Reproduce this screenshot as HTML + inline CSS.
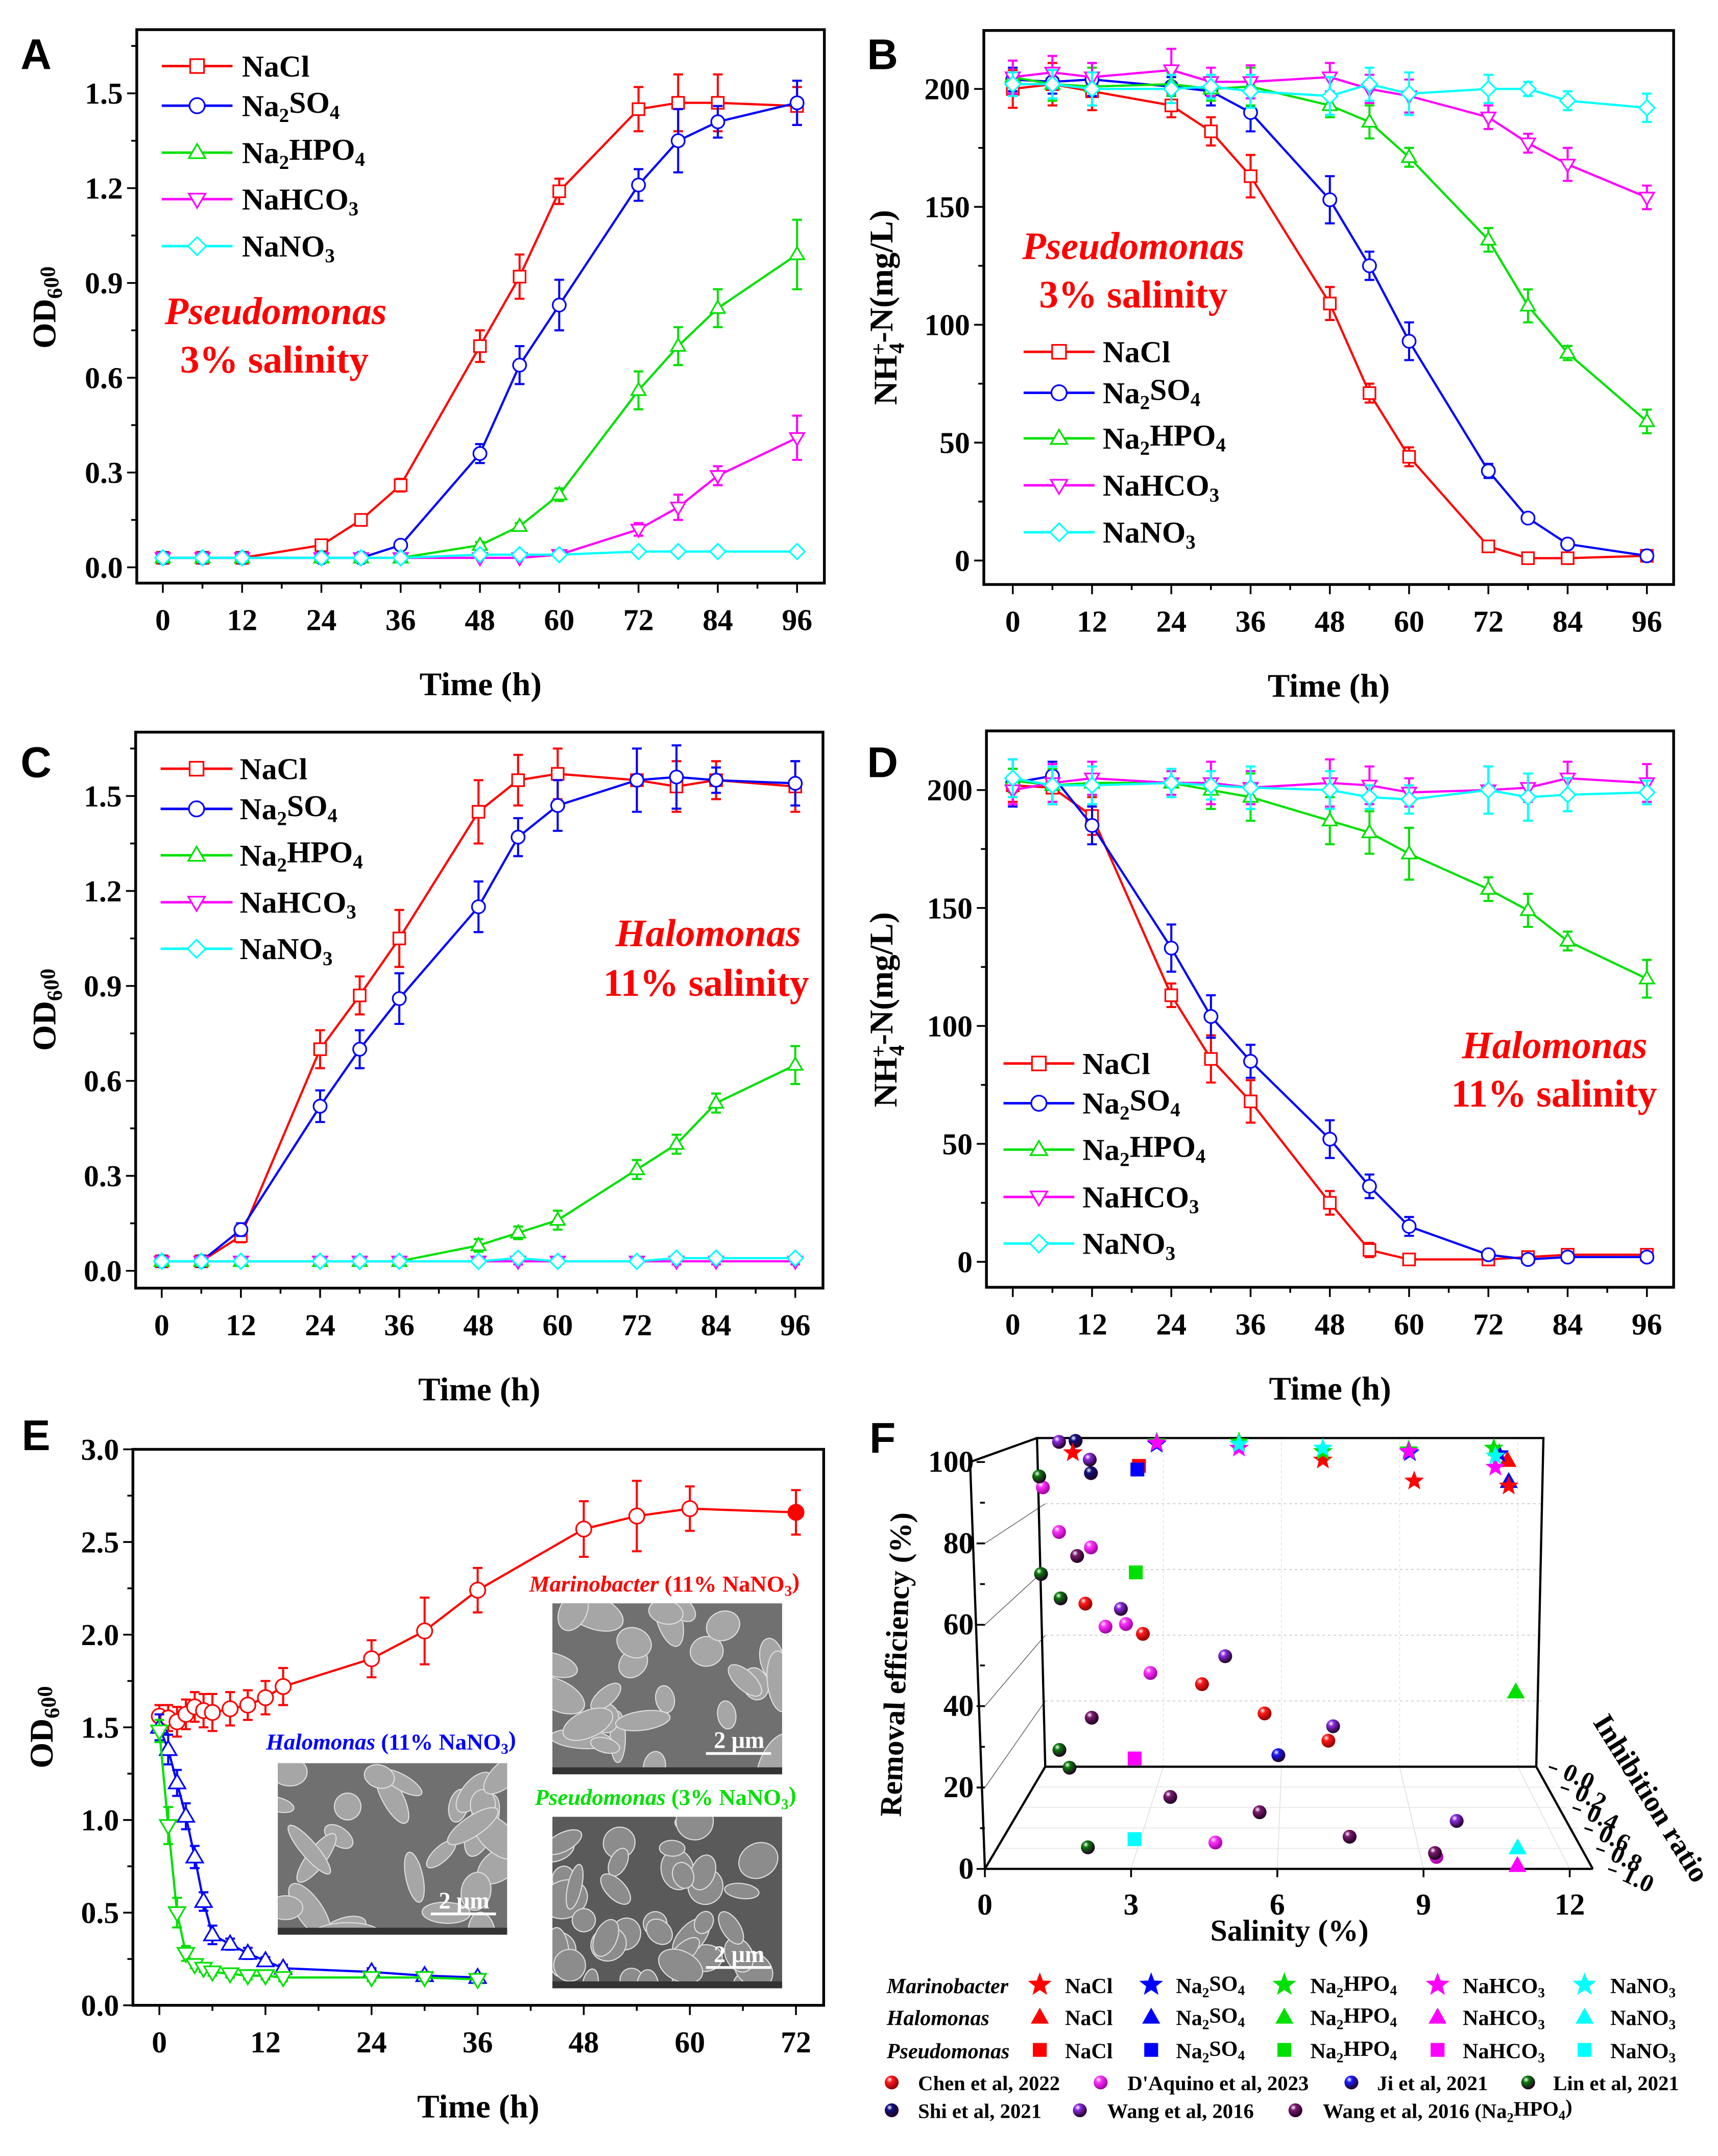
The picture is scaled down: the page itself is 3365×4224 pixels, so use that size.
<!DOCTYPE html>
<html><head><meta charset="utf-8"><title>Growth and ammonium removal under salinity</title>
<style>
html,body{margin:0;padding:0;background:#fff;}
svg{display:block;}
text{font-family:"Liberation Serif",serif;font-weight:bold;fill:#000;}
.sans{font-family:"Liberation Sans",sans-serif;}
</style></head>
<body>
<svg id="fig" xmlns="http://www.w3.org/2000/svg" width="3365" height="4224" viewBox="0 0 1240 1556.6">
<defs id="defs"></defs>
</svg>
<script>
// ---------- DATA ----------
const timeX = [0,6,12,24,30,36,48,54,60,72,78,84,96];
// Panel A (OD600, Pseudomonas 3%)
const aNaCl  = [0.03,0.03,0.03,0.07,0.15,0.26,0.70,0.92,1.19,1.45,1.47,1.47,1.46];
const aNaClE = [0,0,0,0.01,0.01,0.02,0.05,0.07,0.04,0.07,0.09,0.09,0.06];
const aSO4   = [0.03,0.03,0.03,0.03,0.03,0.07,0.36,0.64,0.83,1.21,1.35,1.41,1.47];
const aSO4E  = [0,0,0,0,0,0.01,0.03,0.06,0.08,0.05,0.10,0.05,0.07];
const aHPO4  = [0.03,0.03,0.03,0.03,0.03,0.03,0.07,0.13,0.23,0.56,0.70,0.82,0.99];
const aHPO4E = [0,0,0,0,0,0,0.01,0.01,0.02,0.06,0.06,0.06,0.11];
const aHCO3  = [0.03,0.03,0.03,0.03,0.03,0.03,0.03,0.03,0.04,0.12,0.19,0.29,0.41];
const aHCO3E = [0,0,0,0,0,0,0,0,0,0.02,0.04,0.03,0.07];
const aNO3   = [0.03,0.03,0.03,0.03,0.03,0.03,0.04,0.04,0.04,0.05,0.05,0.05,0.05];
const aNO3E  = [0.01,0.01,0.01,0.01,0.01,0.01,0.01,0.01,0.01,0.01,0.01,0.01,0.01];
// Panel B (NH4-N, Pseudomonas 3%)
const bNaCl  = [200,202,199,193,182,163,109,71,44,6,1,1,2];
const bNaClE = [8,9,8,5,6,9,7,4,4,2,1,1,1];
const bSO4   = [204,203,204,201,199,190,153,125,93,38,18,7,2];
const bSO4E  = [5,5,7,4,6,8,10,6,8,3,2,2,1];
const bHPO4  = [205,202,201,202,200,201,193,186,171,136,108,88,59];
const bHPO4E = [7,7,8,5,5,8,5,7,4,5,7,3,5];
const bHCO3  = [205,207,205,208,203,203,205,200,197,188,177,168,154];
const bHCO3E = [7,7,6,9,6,7,6,6,7,5,4,7,5];
const bNO3   = [202,202,200,200,201,199,197,202,198,200,200,195,192];
const bNO3E  = [5,6,7,6,5,7,8,7,9,6,3,4,6];
// Panel C (OD600, Halomonas 11%)
const cNaCl  = [0.03,0.03,0.11,0.70,0.87,1.05,1.45,1.55,1.57,1.55,1.53,1.55,1.53];
const cNaClE = [0,0,0.02,0.06,0.06,0.09,0.10,0.08,0.08,0.10,0.08,0.06,0.08];
const cSO4   = [0.03,0.03,0.13,0.52,0.70,0.86,1.15,1.37,1.47,1.55,1.56,1.55,1.54];
const cSO4E  = [0,0,0.02,0.05,0.06,0.08,0.08,0.06,0.08,0.10,0.10,0.04,0.07];
const cHPO4  = [0.03,0.03,0.03,0.03,0.03,0.03,0.08,0.12,0.16,0.32,0.40,0.53,0.65];
const cHPO4E = [0,0,0,0,0,0,0.02,0.02,0.03,0.03,0.03,0.03,0.06];
const cHCO3  = [0.03,0.03,0.03,0.03,0.03,0.03,0.03,0.03,0.03,0.03,0.03,0.03,0.03];
const cHCO3E = [0.01,0.01,0.01,0.01,0.01,0.01,0.01,0.01,0.01,0.01,0.01,0.01,0.01];
const cNO3   = [0.03,0.03,0.03,0.03,0.03,0.03,0.03,0.04,0.03,0.03,0.04,0.04,0.04];
const cNO3E  = [0.01,0.01,0.01,0.01,0.01,0.01,0.01,0.01,0.01,0.01,0.01,0.01,0.01];
// Panel D (NH4-N, Halomonas 11%)
const dNaCl  = [202,201,189,113,86,68,25,5,1,1,2,3,3];
const dNaClE = [7,7,8,5,10,9,5,3,2,2,2,2,2];
const dSO4   = [203,206,185,133,104,85,52,32,15,3,1,2,2];
const dSO4E  = [10,6,8,10,9,7,8,5,4,2,2,2,2];
const dHPO4  = [204,202,203,203,200,197,187,182,173,158,149,136,120];
const dHPO4E = [5,7,9,5,8,10,10,9,11,5,7,4,8];
const dHCO3  = [200,203,205,203,203,201,203,202,199,200,201,205,203];
const dHCO3E = [6,8,7,5,9,7,10,8,6,10,6,7,8];
const dNO3   = [205,202,202,203,202,201,200,197,196,200,197,198,199];
const dNO3E  = [8,8,8,6,6,9,8,5,6,10,10,7,5];
// Panel E (OD600 in 11%/3% NaNO3)
const eMarX  = [0,1,2,3,4,5,6,8,10,12,14,24,30,36,48,54,60,72];
const eMarY  = [1.56,1.55,1.53,1.57,1.61,1.59,1.58,1.60,1.62,1.66,1.72,1.87,2.02,2.24,2.57,2.64,2.68,2.66];
const eMarE  = [0.06,0.07,0.08,0.08,0.08,0.09,0.10,0.09,0.08,0.09,0.10,0.10,0.18,0.12,0.15,0.19,0.12,0.12];
const eHalX  = [0,1,2,3,4,5,6,8,10,12,14,24,30,36];
const eHalY  = [1.50,1.38,1.20,1.02,0.80,0.56,0.38,0.33,0.28,0.24,0.20,0.18,0.16,0.15];
const eHalE  = [0.07,0.08,0.07,0.07,0.06,0.05,0.05,0.03,0.03,0.02,0.02,0.02,0.02,0.02];
const ePseX  = [0,1,2,3,4,5,6,8,10,12,14,24,30,36];
const ePseY  = [1.48,0.97,0.50,0.28,0.22,0.20,0.18,0.17,0.16,0.16,0.15,0.15,0.15,0.14];
const ePseE  = [0.06,0.10,0.08,0.04,0.02,0.02,0.02,0.02,0.02,0.02,0.02,0.02,0.02,0.02];
// Panel F (salinity %, removal %, inhibition ratio)
const fChenSal=[1.02,2.48,3.98,5.57,7.19], fChenRem=[49.6,40.4,25.1,16.2,7.9], fChenInh=[0,0,0,0,0];
const fDaqSal=[0,0.35,1.16,1.53,2.05,2.67,4.64,9.33], fDaqRem=[85.4,71.4,66.7,42.6,43.4,28.5,0,0], fDaqInh=[0.04,0,0,0,0,0,0.742,0.883];
const fJiSal=[5.92], fJiRem=[3.5], fJiInh=[0];
const fLinSal=[0,0,0.39,0.36,0.63,1.93], fLinRem=[89.3,59.8,51.2,5.1,0,0], fLinInh=[0.1,0.07,0,0,0.01,0.789];
const fShiSal=[0.77,1.16], fShiRem=[99.1,89.3], fShiInh=[0,0];
const fWangSal=[0.35,1.13,1.92,4.57,7.31,10.0], fWangRem=[98.8,93.4,48,33.6,12.3,0], fWangInh=[0,0,0,0,0,0.531];
const fWangPSal=[0.81,1.18,3.39,5.54,7.55,9.32], fWangPRem=[64.1,14.9,0,0,0,0], fWangPInh=[0,0,0.296,0.446,0.685,0.845];
const fPseSal=[2.38,2.34,2.30,2.27,2.87], fPseRem=[91.5,90.4,59.1,2.5,0], fPseInh=[0,0,0,0,0.709];
const fHalSal=[11.74,11.77,11.95,10.96,11.12], fHalRem=[93.3,86.9,22.9,0,0], fHalInh=[0,0,0,0.962,0.789];
const fMarNaClSal=[0.70,7.05,9.37,11.77], fMarNaClRem=[95.5,93.3,86.9,85.4];
const fMarSO4Sal=[2.83,9.26,11.53], fMarSO4Rem=[98.1,95.5,95.2];
const fMarHPO4Sal=[2.83,4.92,7.05,9.23,11.39], fMarHPO4Rem=[98.8,98.8,95.9,96.4,96.9];
const fMarHCO3Sal=[2.83,4.92,9.23,11.43], fMarHCO3Rem=[98.5,96.9,95.9,91.1];
const fMarNO3Sal=[4.92,7.05,11.43], fMarNO3Rem=[98.1,96.9,94.5];
const fSaltTicks=[0,3,6,9,12];
const fRemTicks=[0,20,40,60,80,100];
const fInhTicks=[0,0.2,0.4,0.6,0.8,1.0];

// ---------- HELPERS ----------
const NS='http://www.w3.org/2000/svg';
const svg=document.getElementById('fig');
const defs=document.getElementById('defs');
function mk(tag,attrs,parent){const e=document.createElementNS(NS,tag);for(const k in attrs)e.setAttribute(k,attrs[k]);(parent||svg).appendChild(e);return e;}
function fmt(s,sub){
  if(s.indexOf('<tspan')>=0)return s;
  sub=sub||0.65;let out='';
  for(let i=0;i<s.length;i++){const ch=s[i];
    if(ch==='_'||ch==='^'){const c=s[i+1];i++;const dy=ch==='_'?'0.3em':'-0.45em';
      out+='<tspan font-size="'+(sub*100)+'%" dy="'+dy+'">'+c+'</tspan><tspan dy="'+(ch==='_'?'-0.3em':'0.45em')+'">\u200b</tspan>';}
    else out+=ch.replace('&','&amp;').replace('<','&lt;');}
  return out;}
function txt(x,y,s,size,opts,parent){opts=opts||{};const a={x:x,y:y,'font-size':size};
  if(opts.anchor)a['text-anchor']=opts.anchor;if(opts.fill)a.fill=opts.fill;if(opts.style)a['font-style']=opts.style;
  if(opts.tr)a.transform=opts.tr;if(opts.cls)a['class']=opts.cls;if(opts.db)a['dominant-baseline']=opts.db;
  const t=mk('text',a,parent);t.innerHTML=fmt(s);if(opts.fill)t.style.fill=opts.fill;return t;}
function marker(g,type,cx,cy,color,r,filled){let e;const f=filled?color:'#fff';
  if(type==='square')e=mk('rect',{x:cx-r,y:cy-r,width:2*r,height:2*r,fill:f,stroke:color,'stroke-width':1.2},g);
  else if(type==='circle')e=mk('circle',{cx:cx,cy:cy,r:r*1.1,fill:f,stroke:color,'stroke-width':1.2},g);
  else if(type==='up')e=mk('polygon',{points:[cx,cy-r*1.25,cx+r*1.2,cy+r*0.8,cx-r*1.2,cy+r*0.8].join(','),fill:f,stroke:color,'stroke-width':1.2},g);
  else if(type==='down')e=mk('polygon',{points:[cx,cy+r*1.25,cx+r*1.2,cy-r*0.8,cx-r*1.2,cy-r*0.8].join(','),fill:f,stroke:color,'stroke-width':1.2},g);
  else e=mk('polygon',{points:[cx,cy-r*1.3,cx+r*1.3,cy,cx,cy+r*1.3,cx-r*1.3,cy].join(','),fill:f,stroke:color,'stroke-width':1.2},g);
  return e;}
const COL={red:'#ff0000',blue:'#0000ff',green:'#00e000',mag:'#ff00ff',cyan:'#00ffff'};
const NH4='NH<tspan font-size="65%" dy="-0.5em">+</tspan><tspan font-size="65%" dx="-0.5em" dy="0.85em">4</tspan><tspan dy="-0.35em">-N(mg/L)</tspan>';

// ---------- LINE PANELS ----------
function linePanel(p){
  const g=mk('g',{});
  
  
  const [bl,bt,br,bb]=p.box;
  const xs=v=>p.x0+v/p.xmax*(p.x1-p.x0);
  const ys=v=>p.y0-v/p.yv*(p.y0-p.yp);
  const ax=mk('g',{stroke:'#000','stroke-width':1.3},g);
  
  
  for(let v=0;v<=p.xmax+1e-9;v+=p.xminor){const X=xs(v);const major=Math.abs(v/p.xstep-Math.round(v/p.xstep))<1e-6;
    mk('line',{x1:X,y1:bb,x2:X,y2:bb+(major?7:4)},ax);
    if(major){const t=txt(X,bb+34,String(Math.round(v)),22,{anchor:'middle'},g);
      
      }}
  for(let v=0;v<=p.ymaxTick+1e-9;v+=p.yminor){const Y=ys(v);const major=Math.abs(v/p.ystep-Math.round(v/p.ystep))<1e-6;
    mk('line',{x1:bl,y1:Y,x2:bl-(major?7:4),y2:Y},ax);
    if(major){const t=txt(bl-10,Y+7.5,v.toFixed(p.ydec),22,{anchor:'end'},g);
      
      }}
  if(p.ytopMinor){const Y=ys(p.ytopMinor);mk('line',{x1:bl,y1:Y,x2:bl-4,y2:Y},ax);}
  const frame=mk('rect',{x:bl,y:bt,width:br-bl,height:bb-bt,fill:'none',stroke:'#000','stroke-width':2},g);
  
  
  p.series.forEach(s=>{
    const sg=mk('g',{},g);
    
    
    const xv=s.x||timeX;
    const pts=xv.map((x,i)=>xs(x)+','+ys(s.y[i])).join(' ');
    const ln=mk('polyline',{points:pts,fill:'none',stroke:s.color,'stroke-width':1.6},sg);
    
    
    xv.forEach((x,i)=>{const X=xs(x),e=s.e[i];
      if(e>0){const eb=mk('path',{d:'M'+X+','+ys(s.y[i]-e)+'V'+ys(s.y[i]+e)+'M'+(X-3.5)+','+ys(s.y[i]+e)+'h7M'+(X-3.5)+','+ys(s.y[i]-e)+'h7',stroke:s.color,'stroke-width':1.5,fill:'none'},sg);
        
        }
    });
    xv.forEach((x,i)=>{const m=marker(sg,s.marker,xs(x),ys(s.y[i]),s.color,s.r||4.3,s.filledLast&&i===xv.length-1);
      
      });
  });
  const xt=txt((bl+br)/2,bb+81,'Time (h)',24,{anchor:'middle'},g);
  
  
  const yt=txt(0,0,p.ytitle,24,{anchor:'middle',tr:'translate('+p.ytx+','+p.yty+') rotate(-90)'},g);
  
  
  const pl=txt(p.lx,p.ly,p.letter,31,{cls:'sans',anchor:'middle'},g);
  
  
  if(p.legend){const lg=mk('g',{},g);
    
    
    p.series.forEach((s,i)=>{const Y=p.legend.ys[i];const L=p.legend;
      const en=mk('g',{},lg);
      
      
      mk('line',{x1:L.x1,y1:Y,x2:L.x2,y2:Y,stroke:s.color,'stroke-width':1.8},en);
      marker(en,s.marker,(L.x1+L.x2)/2,Y,s.color,5,false);
      txt(L.tx,Y+7.5,s.label,22,{},en);});}
  (p.notes||[]).forEach(n=>{const t=txt(n.x,n.y,n.s,28,{anchor:n.a,fill:COL.red,style:n.it?'italic':'normal'},g);
    
    });
  return {g,xs,ys};
}
function five(pfx){return [
 {name:'nacl',label:'NaCl',color:COL.red,marker:'square',y:window[pfx+'NaCl'],e:window[pfx+'NaClE']},
 {name:'na2so4',label:'Na_2SO_4',color:COL.blue,marker:'circle',y:window[pfx+'SO4'],e:window[pfx+'SO4E']},
 {name:'na2hpo4',label:'Na_2HPO_4',color:COL.green,marker:'up',y:window[pfx+'HPO4'],e:window[pfx+'HPO4E']},
 {name:'nahco3',label:'NaHCO_3',color:COL.mag,marker:'down',y:window[pfx+'HCO3'],e:window[pfx+'HCO3E']},
 {name:'nano3',label:'NaNO_3',color:COL.cyan,marker:'diamond',y:window[pfx+'NO3'],e:window[pfx+'NO3E']}];}
Object.assign(window,{aNaCl,aNaClE,aSO4,aSO4E,aHPO4,aHPO4E,aHCO3,aHCO3E,aNO3,aNO3E,bNaCl,bNaClE,bSO4,bSO4E,bHPO4,bHPO4E,bHCO3,bHCO3E,bNO3,bNO3E,cNaCl,cNaClE,cSO4,cSO4E,cHPO4,cHPO4E,cHCO3,cHCO3E,cNO3,cNO3E,dNaCl,dNaClE,dSO4,dSO4E,dHPO4,dHPO4E,dHCO3,dHCO3E,dNO3,dNO3E});

const od='OD_6_0_0';
linePanel({id:'a',letter:'A',lx:26,ly:50,box:[98.7,21.4,595,421],x0:117.5,x1:575.3,xmax:96,xstep:12,xminor:6,
  y0:409.6,yv:1.5,yp:67.4,ystep:0.3,yminor:0.15,ymaxTick:1.5,ytopMinor:1.65,ydec:1,ytitle:od,ytx:40,yty:222,
  series:five('a'),legend:{x1:116.7,x2:167.8,tx:174.6,ys:[47.7,76.3,110.2,143.8,177.7]},
  notes:[{x:199,y:234,s:'Pseudomonas',a:'middle',it:1},{x:198,y:269,s:'3% salinity',a:'middle'}]});
linePanel({id:'b',letter:'B',lx:637,ly:50,box:[710.1,22,1208,422],x0:731,x1:1188.7,xmax:96,xstep:12,xminor:6,
  y0:404.7,yv:200,yp:64.2,ystep:50,yminor:25,ymaxTick:200,ytopMinor:0,ydec:0,ytitle:NH4,ytx:647,yty:222,
  series:five('b'),legend:{x1:738.8,x2:790,tx:795.9,ys:[254,283.6,316.5,350.4,384.3]},
  notes:[{x:818,y:187,s:'Pseudomonas',a:'middle',it:1},{x:818,y:222,s:'3% salinity',a:'middle'}]});
linePanel({id:'c',letter:'C',lx:26,ly:561,box:[97.9,528.6,594,930],x0:116.7,x1:574,xmax:96,xstep:12,xminor:6,
  y0:917.5,yv:1.5,yp:574.7,ystep:0.3,yminor:0.15,ymaxTick:1.5,ytopMinor:1.65,ydec:1,ytitle:od,ytx:40,yty:729,
  series:five('c'),legend:{x1:115.9,x2:167.8,tx:173,ys:[555,584,617.5,651.4,685]},
  notes:[{x:578,y:683,s:'Halomonas',a:'end',it:1},{x:584,y:719,s:'11% salinity',a:'end'}]});
linePanel({id:'d',letter:'D',lx:637,ly:561,box:[712,527.7,1208,929.4],x0:731,x1:1188.7,xmax:96,xstep:12,xminor:6,
  y0:911,yv:200,yp:570.4,ystep:50,yminor:25,ymaxTick:200,ytopMinor:0,ydec:0,ytitle:NH4,ytx:647,yty:729,
  series:five('d'),legend:{x1:724.3,x2:775.4,tx:781.3,ys:[767.8,796.5,830,864.2,897.8]},
  notes:[{x:1189,y:764,s:'Halomonas',a:'end',it:1},{x:1196,y:799,s:'11% salinity',a:'end'}]});

// ---------- PANEL E ----------
(function(){
  function sem(x,y,w,h,name,seed,dark){
    const g=mk('g',{});
    
    
    const cid='clip'+name;const cp=mk('clipPath',{id:cid},defs);mk('rect',{x:x,y:y,width:w,height:h},cp);
    mk('rect',{x:x,y:y,width:w,height:h,fill:dark?'#5a5a5a':'#707070'},g);
    const ig=mk('g',{'clip-path':'url(#'+cid+')'},g);
    let s=seed;const rnd=()=>{s=(s*9301+49297)%233280;return s/233280;};
    for(let i=0;i<(dark?40:26);i++){const cx=x+rnd()*w,cy=y+rnd()*h;
      const rx=dark?6+rnd()*12:8+rnd()*16,ry=dark?5+rnd()*9:5+rnd()*7;
      mk('ellipse',{cx:cx,cy:cy,rx:rx,ry:ry,transform:'rotate('+(rnd()*180)+' '+cx+' '+cy+')',fill:dark?'#8c8c8c':'#a6a6a6',stroke:'#dcdcdc','stroke-width':0.8},ig);}
    mk('rect',{x:x,y:y+h-5,width:w,height:5,fill:'#333'},g);
    mk('line',{x1:x+w-55,y1:y+h-15,x2:x+w-8,y2:y+h-15,stroke:'#fff','stroke-width':2},g);
    const t=mk('text',{x:x+w-31,y:y+h-19,'font-size':17,'text-anchor':'middle',fill:'#fff'},g);t.textContent='2 \u03bcm';t.style.fill='#fff';
  }
  sem(398.7,1157.6,165.8,123.4,'sem-marinobacter',7,false);
  sem(200.5,1273,165.5,123.8,'sem-halomonas',19,false);
  sem(398.7,1311.7,165.8,123.8,'sem-pseudomonas',31,true);
  linePanel({id:'e',letter:'E',lx:26,ly:1047,box:[95.9,1046.4,594.5,1447.8],x0:115,x1:574.5,xmax:72,xstep:12,xminor:6,
    y0:1447.8,yv:3,yp:1046.4,ystep:0.5,yminor:0.25,ymaxTick:3,ytopMinor:0,ydec:1,ytitle:od,ytx:38,yty:1247,
    series:[
      {name:'marinobacter',color:COL.red,marker:'circle',x:eMarX,y:eMarY,e:eMarE,r:5,filledLast:true},
      {name:'halomonas',color:COL.blue,marker:'up',x:eHalX,y:eHalY,e:eHalE,r:5},
      {name:'pseudomonas',color:COL.green,marker:'down',x:ePseX,y:ePseY,e:ePseE,r:5}]});
  function lab(x,y,it,rest,color,name){const t=mk('text',{x:x,y:y,'font-size':16.5});t.style.fill=color;
    t.innerHTML='<tspan font-style="italic">'+it+'</tspan> '+fmt(rest);
    
    }
  lab(382,1149,'Marinobacter','(11% NaNO_3)',COL.red,'label-marinobacter');
  lab(192,1263,'Halomonas','(11% NaNO_3)',COL.blue,'label-halomonas');
  lab(386,1303,'Pseudomonas','(3% NaNO_3)',COL.green,'label-pseudomonas');
})();

// ---------- PANEL F (3D scatter) ----------
(function(){
  const g=mk('g',{});
  
  
  const T=(zx,zy)=>[619+zx*0.396,1013.3+zy*0.3464];
  function proj(sal,rem,d){const s=0.808+0.192*d;const ox=342-110*d,oy=757+213*d;return T(ox+sal*88.83*s,oy-rem*8.48*s);}
  const L=(a,b,st,w,dash)=>{const e=mk('line',{x1:a[0],y1:a[1],x2:b[0],y2:b[1],stroke:st,'stroke-width':w},g);if(dash)e.setAttribute('stroke-dasharray',dash);return e;};
  fRemTicks.forEach(r=>{if(r>0&&r<100){L(proj(0,r,0),proj(12.65,r,0),'#cfcfcf',0.7,'2,2');L(proj(0,r,1),proj(0,r,0),'#555',0.5);}});
  fSaltTicks.forEach(s=>{if(s>0&&s<12.5){L(proj(s,0,0),proj(s,100,0),'#e0e0e0',0.6,'2,2');L(proj(s,0,0),proj(s,0,1),'#e0e0e0',0.6);}});
  fInhTicks.forEach(v=>{if(v>0&&v<1)L(proj(0,0,v),proj(12.65,0,v),'#e6e6e6',0.6);});
  const fr=mk('g',{stroke:'#000','stroke-width':1.6,fill:'none'},g);
  
  
  const pts=[[327,72],[1250,72],[1237,757],[342,757]].map(p=>T(p[0],p[1]).join(',')).join(' ');
  mk('polygon',{points:pts},fr);
  [[[205,122],[327,72]],[[205,122],[232,970]],[[232,970],[1340,970]],[[342,757],[232,970]],[[1237,757],[1340,970]]].forEach(s=>{const a=T(...s[0]),b=T(...s[1]);mk('line',{x1:a[0],y1:a[1],x2:b[0],y2:b[1]},fr);});
  for(let r=0;r<=100;r+=10){const a=proj(0,r,1);const major=r%20===0;
    L(a,[a[0]-(major?6:3.5),a[1]],'#000',1.3);
    if(major){const t=txt(a[0]-8,a[1]+7,String(r),22,{anchor:'end'},g);
      
      }}
  fSaltTicks.forEach(s=>{const a=proj(s,0,1);L(a,[a[0],a[1]+6],'#000',1.3);
    const t=txt(a[0],a[1]+33,String(s),22,{anchor:'middle'},g);
    
    });
  fInhTicks.forEach(v=>{const a=proj(12.79,0,v);L(a,[a[0]+6,a[1]+2],'#000',1.3);
    const t=txt(a[0]+9,a[1]+8,v.toFixed(1),18,{tr:'rotate(25 '+(a[0]+9)+' '+(a[1]+8)+')'},g);
    
    });
  let t=txt(930.7,1401,'Salinity (%)',22,{anchor:'middle'},g);
  
  
  t=txt(0,0,'Removal efficiency (%)',22,{anchor:'middle',tr:'translate(654,1202) rotate(-88)'},g);
  
  
  t=txt(0,0,'Inhibition ratio',21,{anchor:'middle',tr:'translate(1186,1302) rotate(58)'},g);
  
  
  t=txt(637,1049,'F',31,{cls:'sans',anchor:'middle'},g);
  
  
  const sph={chen:'#ff1a1a',daq:'#ff33ff',ji:'#1a1aff',lin:'#0a7a0a',shi:'#101080',wang:'#8a2be2',wangp:'#7a1a70'};
  for(const k in sph){const gr=mk('radialGradient',{id:'g-'+k,cx:'35%',cy:'30%',r:'70%'},defs);
    mk('stop',{offset:'0%','stop-color':'#ffffff'},gr);mk('stop',{offset:'30%','stop-color':sph[k]},gr);mk('stop',{offset:'100%','stop-color':k==='daq'?'#a000a0':(k==='chen'?'#900000':'#200020')},gr);}
  function sphere(x,y,k,name,parent){const c=mk('circle',{cx:x,cy:y,r:5,fill:'url(#g-'+k+')'},parent||g);
    
    }
  function star(x,y,color,name,parent,R){R=R||7.5;const p=[];for(let i=0;i<10;i++){const r=i%2?R*0.42:R;const a=-Math.PI/2+i*Math.PI/5;p.push((x+r*Math.cos(a)).toFixed(2)+','+(y+r*Math.sin(a)).toFixed(2));}
    const e=mk('polygon',{points:p.join(' '),fill:color},parent||g);
    
    }
  function tri(x,y,color,name,parent){const e=mk('polygon',{points:[x,y-6.5,x+6.5,y+5,x-6.5,y+5].join(','),fill:color},parent||g);
    
    }
  function sq(x,y,color,name,parent){const e=mk('rect',{x:x-5,y:y-5,width:10,height:10,fill:color},parent||g);
    
    }
  const lit=[[fChenSal,fChenRem,fChenInh,'chen'],[fDaqSal,fDaqRem,fDaqInh,'daq'],[fJiSal,fJiRem,fJiInh,'ji'],[fLinSal,fLinRem,fLinInh,'lin'],[fShiSal,fShiRem,fShiInh,'shi'],[fWangSal,fWangRem,fWangInh,'wang'],[fWangPSal,fWangPRem,fWangPInh,'wangp']];
  lit.forEach(([S,R,I,k])=>S.forEach((s,i)=>{const p=proj(s,R[i],I[i]);sphere(p[0],p[1],k,'point-'+k);}));
  const cols=[COL.red,COL.blue,COL.green,COL.mag,COL.cyan];
  fPseSal.forEach((s,i)=>{const p=proj(s,fPseRem[i],fPseInh[i]);sq(p[0],p[1],cols[i],'point-pseudomonas');});
  fHalSal.forEach((s,i)=>{const p=proj(s,fHalRem[i],fHalInh[i]);tri(p[0],p[1],cols[i],'point-halomonas');});
  [[fMarNaClSal,fMarNaClRem,COL.red],[fMarSO4Sal,fMarSO4Rem,COL.blue],[fMarHPO4Sal,fMarHPO4Rem,COL.green],[fMarHCO3Sal,fMarHCO3Rem,COL.mag],[fMarNO3Sal,fMarNO3Rem,COL.cyan]]
   .forEach(([S,R,c])=>S.forEach((s,i)=>{const p=proj(s,R[i],0);star(p[0],p[1],c,'point-marinobacter');}));
  const lg=mk('g',{},g);
  
  
  const rows=[1433,1456,1480];const orgs=['Marinobacter','Halomonas','Pseudomonas'];
  const salts=['NaCl','Na_2SO_4','Na_2HPO_4','NaHCO_3','NaNO_3'];
  const mx=[750.5,830.9,927,1037.6,1143.7],tx=[768.7,848.8,945.7,1055.8,1162.3];
  rows.forEach((Y,r)=>{const o=txt(640,Y+6,orgs[r],15.5,{style:'italic'},lg);
    
    
    salts.forEach((sn,j)=>{if(r===0)star(mx[j],Y,cols[j],'legend-marker',lg,9);else if(r===1)tri(mx[j],Y,cols[j],'legend-marker',lg);else sq(mx[j],Y,cols[j],'legend-marker',lg);
      const t=txt(tx[j],Y+6,sn,15.5,{},lg);
      
      });});
  const refs=[[643.6,1503.5,'chen','Chen et al, 2022',662.6],[794.4,1503.5,'daq',"D'Aquino et al, 2023",813.8],[975.4,1503.5,'ji','Ji et al, 2021',994],[1103,1503.5,'lin','Lin et al, 2021',1121.1],
    [643.6,1523.6,'shi','Shi et al, 2021',662.6],[779.4,1523.6,'wang','Wang et al, 2016',799.2],[935,1523.6,'wangp','Wang et al, 2016 (Na_2HPO_4)',954.8]];
  refs.forEach(r=>{sphere(r[0],r[1],r[2],'legend-marker',lg);const t=txt(r[4],r[1]+5.5,r[3],15,{},lg);
    
    });
})();
</script>
</body></html>
